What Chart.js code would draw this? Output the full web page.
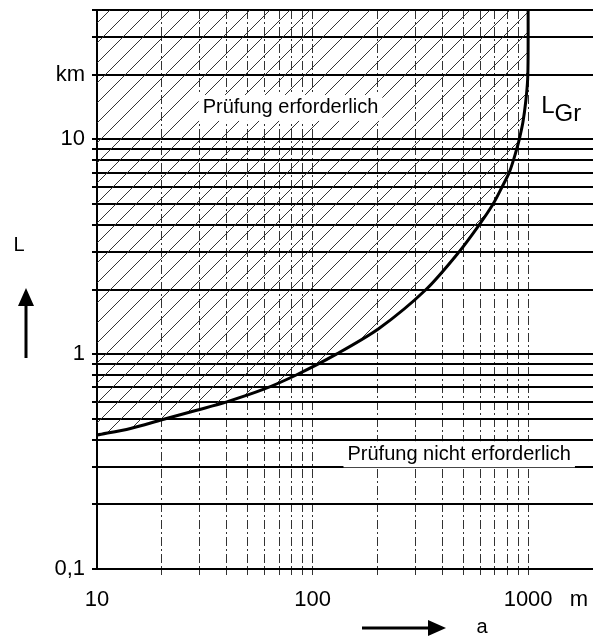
<!DOCTYPE html>
<html>
<head>
<meta charset="utf-8">
<script src="https://cdn.jsdelivr.net/npm/chart.js@4.4.0/dist/chart.umd.min.js"></script>
<style>
  html, body { margin: 0; padding: 0; background: #fff; }
  #wrap { width: 593px; height: 640px; position: relative; }
</style>
</head>
<body>
<div id="wrap"><canvas id="chart"></canvas></div>
<script>
// --- Data ---
const curveA = [10, 14.3, 20, 29, 40, 59, 84, 129, 204, 336, 479, 593, 688, 757, 817, 855, 885, 910, 946, 975, 995, 1000, 1000];
const curveL = [0.42, 0.451, 0.495, 0.548, 0.60, 0.685, 0.80, 1.0, 1.32, 2.0, 3.0, 4.0, 5.0, 6.0, 7.0, 8.0, 9.0, 10, 12, 15, 19, 25, 40];

const xTicks = [10, 20, 30, 40, 50, 60, 70, 80, 90, 100, 200, 300, 400, 500, 600, 700, 800, 900, 1000];
const xUnitTick = 1720;
const xLabels = { 10: '10', 100: '100', 1000: '1000', 1720: 'm' };

const yTicks = [0.1, 0.2, 0.3, 0.4, 0.5, 0.6, 0.7, 0.8, 0.9, 1, 2, 3, 4, 5, 6, 7, 8, 9, 10, 20, 30, 40];
const yLabels = { 0.1: '0,1', 1: '1', 10: '10', 20: 'km' };

// region labels, placed in data coordinates (a, L)
const regionText = ['Prüfung erforderlich', 'Prüfung nicht erforderlich'];
const regionA = [79, 479];
const regionL = [14, 0.342];

const FONT = "'Liberation Sans', Arial, sans-serif";

// --- Hatch pattern ---
const makeHatch = () => {
    const s = 20;
    const c = document.createElement('canvas');
    c.width = s; c.height = s;
    const g = c.getContext('2d');
    g.strokeStyle = '#333';
    g.lineWidth = 1;
    g.beginPath();
    g.moveTo(0, s); g.lineTo(s, 0);
    g.moveTo(-s / 2, s / 2); g.lineTo(s / 2, -s / 2);
    g.moveTo(s / 2, s * 1.5); g.lineTo(s * 1.5, s / 2);
    g.stroke();
    return g.createPattern(c, 'repeat');
};

// --- Labels, arrows ---
const annotations = {
    id: 'annotations',
    afterDatasetsDraw(chart) {
        const ctx = chart.ctx;
        const x = chart.scales.x, y = chart.scales.y;
        ctx.save();
        ctx.fillStyle = '#000';
        ctx.font = '20px ' + FONT;
        ctx.textAlign = 'center';
        ctx.textBaseline = 'middle';
        regionText.forEach((t, i) => {
            const px = x.getPixelForValue(regionA[i]);
            const py = y.getPixelForValue(regionL[i]);
            const w = ctx.measureText(t).width;
            ctx.fillStyle = '#fff';
            ctx.fillRect(px - w / 2 - 4, py - 13, w + 8, 26);
            ctx.fillStyle = '#000';
            ctx.fillText(t, px, py);
        });

        // L_Gr next to the curve
        const lx = x.getPixelForValue(1150), ly = y.getPixelForValue(14.3);
        ctx.font = '24px ' + FONT;
        ctx.textAlign = 'left';
        ctx.fillText('L', lx, ly);
        const lw = ctx.measureText('L').width;
        ctx.fillText('Gr', lx + lw, ly + 8);

        // axis names with arrows
        ctx.font = '20px ' + FONT;
        ctx.textAlign = 'center';
        ctx.fillText('L', 19, 245);
        ctx.fillText('a', 482, 627);

        ctx.lineWidth = 3;
        ctx.strokeStyle = '#000';
        ctx.beginPath();
        ctx.moveTo(26, 358); ctx.lineTo(26, 300);
        ctx.moveTo(362, 628); ctx.lineTo(432, 628);
        ctx.stroke();
        ctx.beginPath();
        ctx.moveTo(26, 288); ctx.lineTo(18, 306); ctx.lineTo(34, 306); ctx.closePath();
        ctx.moveTo(446, 628); ctx.lineTo(428, 620); ctx.lineTo(428, 636); ctx.closePath();
        ctx.fill();
        ctx.restore();
    }
};

new Chart(document.getElementById('chart'), {
    type: 'line',
    data: {
        datasets: [{
            data: curveA.map((a, i) => ({ x: a, y: curveL[i] })),
            borderColor: '#000',
            borderWidth: 3,
            pointRadius: 0,
            tension: 0.3,
            fill: 'end',
            backgroundColor: makeHatch()
        }]
    },
    options: {
        responsive: true,
        maintainAspectRatio: false,
        animation: false,
        layout: { padding: { top: 10, left: 0, right: 0, bottom: 0 } },
        plugins: { legend: { display: false }, tooltip: { enabled: false } },
        scales: {
            x: {
                type: 'logarithmic',
                min: 10,
                max: 2000,
                afterBuildTicks: s => { s.ticks = [...xTicks, xUnitTick].map(v => ({ value: v })); },
                afterFit: s => { s.height = 71; s.paddingLeft = 0; s.paddingRight = 0; },
                ticks: {
                    autoSkip: false,
                    maxRotation: 0,
                    padding: 12,
                    color: '#000',
                    font: { family: FONT, size: 22 },
                    callback: v => xLabels[v] || ''
                },
                grid: {
                    color: c => (c.tick && (c.tick.value === 10 || c.tick.value === xUnitTick)) ? 'rgba(0,0,0,0)' : '#333',
                    lineWidth: 1,
                    tickLength: 6
                },
                border: { display: false, dash: [9, 3, 2, 3] }
            },
            y: {
                type: 'logarithmic',
                min: 0.1,
                max: 40,
                afterBuildTicks: s => { s.ticks = yTicks.map(v => ({ value: v })); },
                afterFit: s => { s.width = 97; s.paddingTop = 0; s.paddingBottom = 0; },
                ticks: {
                    autoSkip: false,
                    padding: 7,
                    color: '#000',
                    font: { family: FONT, size: 22 },
                    callback: v => yLabels[v] || ''
                },
                grid: { color: '#000', lineWidth: 2, tickLength: 5 },
                border: { display: true, color: '#000', width: 2 }
            }
        }
    },
    plugins: [annotations]
});
</script>
</body>
</html>
